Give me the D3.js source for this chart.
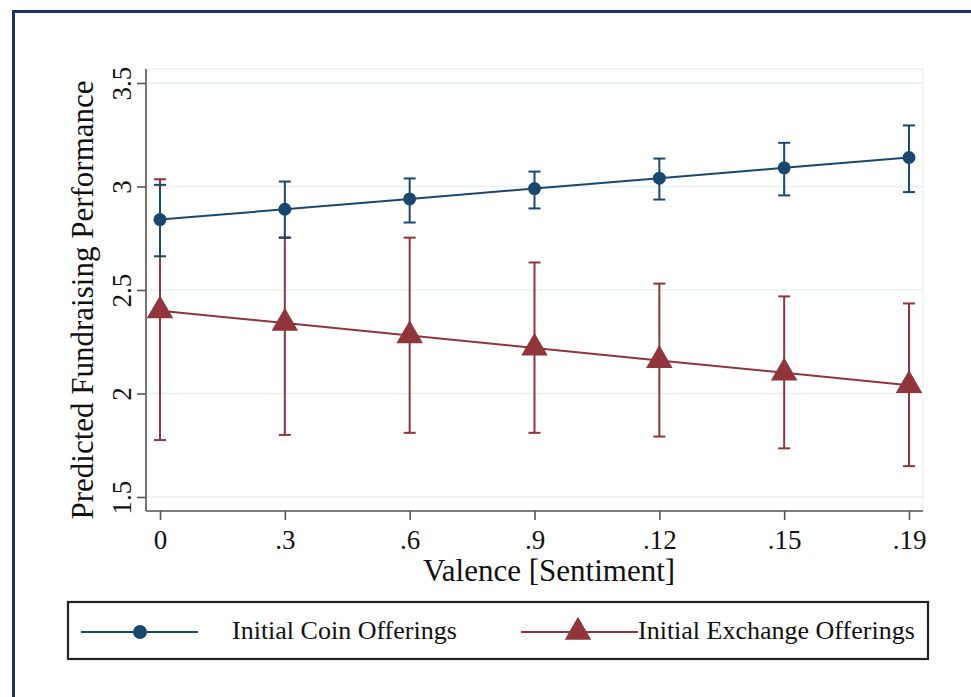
<!DOCTYPE html>
<html>
<head>
<meta charset="utf-8">
<script src="https://cdn.jsdelivr.net/npm/d3@7"></script>
<style>
  html, body { margin: 0; padding: 0; background: #fff; }
  svg { display: block; }
  svg text { font-family: "Liberation Serif", "Times New Roman", serif !important; fill: #111; }
</style>
</head>
<body>
<svg id="chart" width="971" height="697"></svg>
<script>
// ---- data ----
const categories = ["0", ".3", ".6", ".9", ".12", ".15", ".19"];
const icoValues = [2.84, 2.89, 2.94, 2.99, 3.04, 3.09, 3.14];
const icoLower  = [2.663, 2.752, 2.826, 2.894, 2.937, 2.957, 2.973];
const icoUpper  = [3.008, 3.024, 3.039, 3.072, 3.135, 3.211, 3.295];
const ieoValues = [2.40, 2.34, 2.28, 2.22, 2.16, 2.10, 2.04];
const ieoLower  = [1.775, 1.800, 1.810, 1.810, 1.792, 1.735, 1.649];
const ieoUpper  = [3.035, 2.754, 2.753, 2.633, 2.531, 2.469, 2.435];
const yTicks = [1.5, 2, 2.5, 3, 3.5];
const seriesNames = ["Initial Coin Offerings", "Initial Exchange Offerings"];

const navy = "#1a476f", maroon = "#90353b";
const serif = "'Liberation Serif', 'Times New Roman', serif";
const svg = d3.select("#chart");

// outer frame
svg.append("rect").attr("x", 13.5).attr("y", 11.5).attr("width", 1000).attr("height", 800)
  .attr("fill", "none").attr("stroke", "#1c3561").attr("stroke-width", 3);

const plot = { left: 146, right: 923, top: 69, bottom: 511 };
const x = d3.scalePoint().domain(categories).range([160, 909]);
const y = d3.scaleLinear().domain([1.5 - 14/207, 3.5 + 14/207]).range([plot.bottom, plot.top]);

// plot region outline (faint)
svg.append("rect").attr("x", plot.left).attr("y", plot.top)
  .attr("width", plot.right - plot.left).attr("height", plot.bottom - plot.top)
  .attr("fill", "#fff").attr("stroke", "#eef2f3").attr("stroke-width", 1.5);

// gridlines
svg.append("g").selectAll("line").data(yTicks).join("line")
  .attr("x1", plot.left).attr("x2", plot.right)
  .attr("y1", d => y(d)).attr("y2", d => y(d))
  .attr("stroke", "#e8eff1").attr("stroke-width", 1.5);

// y axis
const yAxis = d3.axisLeft(y).tickValues(yTicks).tickSize(9).tickFormat(d3.format("~g"));
const gy = svg.append("g").attr("transform", `translate(${plot.left},0)`).call(yAxis)
  .attr("font-family", serif);
gy.select(".domain").attr("d", `M0,${plot.top}V${plot.bottom}`).attr("stroke", "#555").attr("stroke-width", 1.6);
gy.selectAll(".tick line").attr("stroke", "#555").attr("stroke-width", 1.6);
gy.selectAll(".tick text").attr("x", null).attr("dy", null)
  .attr("transform", "translate(-15,0) rotate(-90)")
  .attr("text-anchor", "middle").attr("y", 0)
  .style("font-family", serif).style("font-size", "27px").attr("fill", "#111");

// x axis
const xAxis = d3.axisBottom(x).tickSize(9);
const gx = svg.append("g").attr("transform", `translate(0,${plot.bottom})`).call(xAxis)
  .attr("font-family", serif);
gx.select(".domain").attr("d", `M${plot.left},0H${plot.right}`).attr("stroke", "#555").attr("stroke-width", 1.6);
gx.selectAll(".tick line").attr("stroke", "#555").attr("stroke-width", 1.6);
gx.selectAll(".tick text").attr("dy", null).attr("y", 38)
  .style("font-family", serif).style("font-size", "27px").attr("fill", "#111");

// axis titles
svg.append("text").attr("transform", "translate(93,300) rotate(-90)")
  .attr("text-anchor", "middle").style("font-family", serif).style("font-size", "31px")
  .text("Predicted Fundraising Performance");
svg.append("text").attr("x", 549).attr("y", 581)
  .attr("text-anchor", "middle").style("font-family", serif).style("font-size", "31px")
  .text("Valence [Sentiment]");

function errorBars(lo, hi, color) {
  const g = svg.append("g").attr("stroke", color).attr("stroke-width", 2).attr("fill", "none");
  const d = categories.map((c, i) => ({ c, lo: lo[i], hi: hi[i] }));
  g.selectAll("line.v").data(d).join("line").attr("class", "v")
    .attr("x1", e => x(e.c)).attr("x2", e => x(e.c))
    .attr("y1", e => y(e.lo)).attr("y2", e => y(e.hi));
  g.selectAll("line.t").data(d).join("line").attr("class", "t")
    .attr("x1", e => x(e.c) - 6).attr("x2", e => x(e.c) + 6)
    .attr("y1", e => y(e.hi)).attr("y2", e => y(e.hi));
  g.selectAll("line.b").data(d).join("line").attr("class", "b")
    .attr("x1", e => x(e.c) - 6).attr("x2", e => x(e.c) + 6)
    .attr("y1", e => y(e.lo)).attr("y2", e => y(e.lo));
}
errorBars(ieoLower, ieoUpper, maroon);
errorBars(icoLower, icoUpper, navy);

const line = d3.line().x(d => x(d.c)).y(d => y(d.v));
const ieoData = categories.map((c, i) => ({ c, v: ieoValues[i] }));
const icoData = categories.map((c, i) => ({ c, v: icoValues[i] }));

svg.append("path").datum(ieoData).attr("d", line).attr("fill", "none").attr("stroke", maroon).attr("stroke-width", 2);
const tri = d3.symbol(d3.symbolTriangle, 305);
svg.append("g").selectAll("path").data(ieoData).join("path")
  .attr("transform", d => `translate(${x(d.c)},${y(d.v)})`).attr("d", tri).attr("fill", maroon);

svg.append("path").datum(icoData).attr("d", line).attr("fill", "none").attr("stroke", navy).attr("stroke-width", 2);
svg.append("g").selectAll("circle").data(icoData).join("circle")
  .attr("cx", d => x(d.c)).attr("cy", d => y(d.v)).attr("r", 6.5).attr("fill", navy);

// legend
svg.append("rect").attr("x", 68).attr("y", 602).attr("width", 860).attr("height", 57)
  .attr("fill", "#fff").attr("stroke", "#222").attr("stroke-width", 2.2);
const legendItems = [
  { name: seriesNames[0], color: navy, x0: 81, x1: 198, mx: 140, tx: 232, sym: "circle" },
  { name: seriesNames[1], color: maroon, x0: 521, x1: 638, mx: 578, tx: 638, sym: "tri" }
];
const lg = svg.append("g").selectAll("g").data(legendItems).join("g");
lg.append("line").attr("x1", d => d.x0).attr("x2", d => d.x1).attr("y1", 632).attr("y2", 632)
  .attr("stroke", d => d.color).attr("stroke-width", 2);
lg.filter(d => d.sym === "circle").append("circle").attr("cx", d => d.mx).attr("cy", 632).attr("r", 7).attr("fill", d => d.color);
lg.filter(d => d.sym === "tri").append("path").attr("transform", d => `translate(${d.mx},632)`).attr("d", tri).attr("fill", d => d.color);
lg.append("text").attr("x", d => d.tx).attr("y", 639)
  .style("font-family", serif).style("font-size", "26px").text(d => d.name);
</script>
</body>
</html>
